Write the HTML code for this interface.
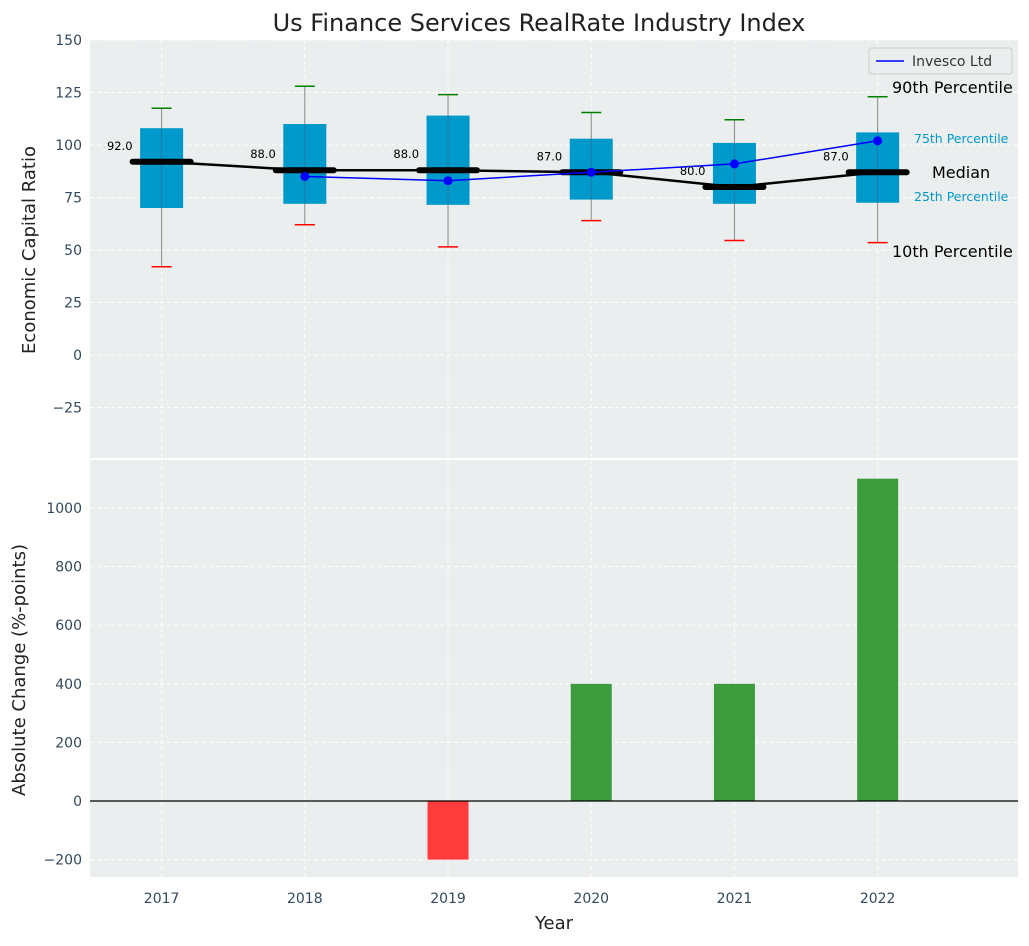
<!DOCTYPE html>
<html><head><meta charset="utf-8"><style>
body{margin:0;background:#fff;font-family:"DejaVu Sans","Liberation Sans",sans-serif}
svg text{font-family:"DejaVu Sans","Liberation Sans",sans-serif}
</style></head><body>
<svg id="c" width="1029" height="942"></svg>
<script>
const years=[2017,2018,2019,2020,2021,2022];
const q1=[70,72,71.5,74,72,72.5];
const q3=[108,110,114,103,101,106];
const p10=[42,62,51.5,64,54.5,53.5];
const p90=[117.5,128,124,115.5,112,123];
const medians=[92,88,88,87,80,87];
const invYears=[2018,2019,2020,2021,2022];
const invesco=[85,83,87,91,102];
const changeYears=[2019,2020,2021,2022];
const changes=[-200,400,400,1100];
const topTicks=[-25,0,25,50,75,100,125,150];
const botTicks=[-200,0,200,400,600,800,1000];

const NS="http://www.w3.org/2000/svg";
const svg=document.getElementById('c');
function el(t,a,txt){const e=document.createElementNS(NS,t);for(const k in a)e.setAttribute(k,a[k]);if(txt!==undefined)e.textContent=txt;svg.appendChild(e);return e;}
const L=90,R=1018;
const x=v=>L+(v-2016.5)/(6.48)*(R-L);
const yT=v=>40+(150-v)*2.1;
const yB=v=>801-v*0.293;

let e;
e=el('rect',{x:L,y:40,width:R-L,height:418,fill:'#ebeeee'});

e=el('rect',{x:L,y:460,width:R-L,height:417,fill:'#ebeeee'});


topTicks.forEach(t=>{el('line',{x1:L,x2:R,y1:yT(t),y2:yT(t),stroke:'#fff','stroke-dasharray':'4,3'});
 e=el('text',{x:82,y:yT(t)+5,'text-anchor':'end','font-size':14,fill:'#34495e'},t<0?'\u2212'+(-t):t);
 });
botTicks.forEach(t=>{el('line',{x1:L,x2:R,y1:yB(t),y2:yB(t),stroke:'#fff','stroke-dasharray':'4,3'});
 e=el('text',{x:82,y:yB(t)+5,'text-anchor':'end','font-size':14,fill:'#34495e'},t<0?'\u2212'+(-t):t);
 });
years.forEach(yv=>{
 el('line',{x1:x(yv),x2:x(yv),y1:40,y2:458,stroke:'#fff','stroke-dasharray':'4,3'});
 el('line',{x1:x(yv),x2:x(yv),y1:460,y2:877,stroke:'#fff','stroke-dasharray':'4,3'});
 e=el('text',{x:x(yv),y:903,'text-anchor':'middle','font-size':14,fill:'#34495e'},yv);
 
});

years.forEach((yv,i)=>{
 const cx=x(yv);
 e=el('line',{x1:cx,x2:cx,y1:yT(p90[i]),y2:yT(p10[i]),stroke:'#888','stroke-width':1});
 
 e=el('rect',{x:cx-21.5,y:yT(q3[i]),width:43,height:yT(q1[i])-yT(q3[i]),fill:'#0099cc'});
 
 el('line',{x1:cx,x2:cx,y1:yT(q3[i]),y2:yT(q1[i]),stroke:'#557','stroke-width':0.8,opacity:0.6});
 e=el('line',{x1:cx-10,x2:cx+10,y1:yT(p90[i]),y2:yT(p90[i]),stroke:'green','stroke-width':1.5});
 
 e=el('line',{x1:cx-10,x2:cx+10,y1:yT(p10[i]),y2:yT(p10[i]),stroke:'red','stroke-width':1.5});
 
});
e=el('polyline',{points:years.map((yv,i)=>x(yv)+','+yT(medians[i])).join(' '),fill:'none',stroke:'#000','stroke-width':2.5});

years.forEach((yv,i)=>{
 e=el('line',{x1:x(yv)-29,x2:x(yv)+29,y1:yT(medians[i]),y2:yT(medians[i]),stroke:'#000','stroke-width':6,'stroke-linecap':'round'});
 
 e=el('text',{x:x(yv)-29,y:yT(medians[i])-12,'text-anchor':'end','font-size':11.5,fill:'#000'},medians[i].toFixed(1));
 
});
e=el('polyline',{points:invYears.map((yv,i)=>x(yv)+','+yT(invesco[i])).join(' '),fill:'none',stroke:'blue','stroke-width':1.5});

invYears.forEach((yv,i)=>{e=el('circle',{cx:x(yv),cy:yT(invesco[i]),r:4.5,fill:'blue'});
 });

const ann=[['90th Percentile',892,93,16,'#000'],['75th Percentile',914,143,12.5,'#0099cc'],['Median',932,178,16,'#000'],['25th Percentile',914,201,12.5,'#0099cc'],['10th Percentile',892,257,16,'#000']];
ann.forEach(a=>{e=el('text',{x:a[1],y:a[2],'font-size':a[3],fill:a[4]},a[0]);
 });

e=el('rect',{x:869,y:48,width:143,height:26,rx:3,fill:'#ebeeee',stroke:'#ccc'});

el('line',{x1:876,x2:904,y1:61,y2:61,stroke:'blue','stroke-width':1.5});
e=el('text',{x:912,y:66,'font-size':14,fill:'#333'},'Invesco Ltd');


changeYears.forEach((yv,i)=>{
 const v=changes[i];
 e=el('rect',{x:x(yv)-20.5,y:Math.min(yB(v),yB(0)),width:41,height:Math.abs(yB(v)-yB(0)),fill:v<0?'#ff3b3b':'#3c9b3c'});
 
});
el('line',{x1:L,x2:R,y1:yB(0),y2:yB(0),stroke:'#000','stroke-width':1.2});

e=el('text',{x:539,y:31,'text-anchor':'middle','font-size':24,fill:'#222'},'Us Finance Services RealRate Industry Index');

e=el('text',{x:0,y:0,'text-anchor':'middle','font-size':18,fill:'#222',transform:'translate(35,250) rotate(-90)'},'Economic Capital Ratio');

e=el('text',{x:0,y:0,'text-anchor':'middle','font-size':18,fill:'#222',transform:'translate(25,670) rotate(-90)'},'Absolute Change (%-points)');

e=el('text',{x:554,y:929,'text-anchor':'middle','font-size':18,fill:'#222'},'Year');

</script>
</body></html>
